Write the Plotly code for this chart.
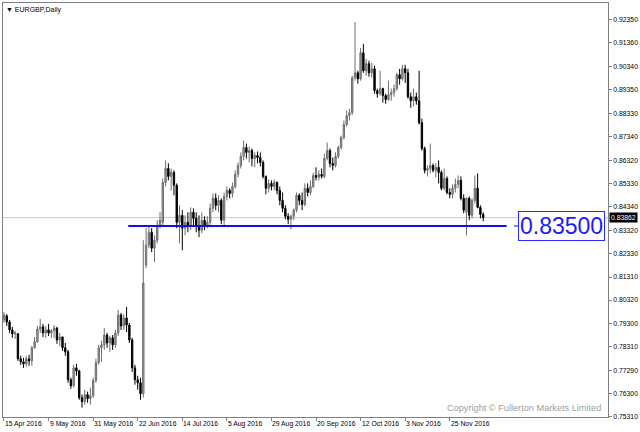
import plotly.graph_objects as go

# EURGBP daily bars, 15 Apr 2016 -> mid Dec 2016
opens = [0.7947, 0.7964, 0.7938, 0.7904, 0.7887, 0.7887, 0.7780, 0.7767, 0.7758, 0.7780,
         0.7771, 0.7827, 0.7853, 0.7908, 0.7917, 0.7891, 0.7904, 0.7891, 0.7900, 0.7912,
         0.7861, 0.7874, 0.7827, 0.7810, 0.7690, 0.7664, 0.7741, 0.7728, 0.7613, 0.7596,
         0.7626, 0.7609, 0.7621, 0.7686, 0.7763, 0.7827, 0.7840, 0.7882, 0.7848, 0.7870,
         0.7840, 0.7891, 0.7968, 0.7921, 0.7955, 0.7925, 0.7861, 0.7741, 0.7690, 0.7677,
         0.7630, 0.8182, 0.8268, 0.8323, 0.8255, 0.8289, 0.8353, 0.8366, 0.8537, 0.8597,
         0.8563, 0.8580, 0.8525, 0.8366, 0.8396, 0.8341, 0.8366, 0.8349, 0.8409, 0.8383,
         0.8353, 0.8332, 0.8375, 0.8353, 0.8366, 0.8426, 0.8469, 0.8439, 0.8460, 0.8375,
         0.8477, 0.8503, 0.8490, 0.8520, 0.8572, 0.8610, 0.8649, 0.8687, 0.8666, 0.8674,
         0.8640, 0.8653, 0.8644, 0.8623, 0.8563, 0.8512, 0.8533, 0.8520, 0.8537, 0.8503,
         0.8460, 0.8426, 0.8392, 0.8379, 0.8392, 0.8418, 0.8482, 0.8460, 0.8443, 0.8512,
         0.8494, 0.8520, 0.8567, 0.8559, 0.8572, 0.8563, 0.8640, 0.8674, 0.8619, 0.8610,
         0.8649, 0.8687, 0.8730, 0.8786, 0.8824, 0.8837, 0.8987, 0.9008, 0.8982, 0.9094,
         0.9017, 0.9047, 0.9008, 0.9025, 0.8931, 0.8918, 0.8940, 0.8910, 0.8893, 0.8914,
         0.8923, 0.8940, 0.9000, 0.8982, 0.9025, 0.9008, 0.8905, 0.8888, 0.8905, 0.8888,
         0.8794, 0.8683, 0.8589, 0.8597, 0.8610, 0.8589, 0.8602, 0.8580, 0.8512, 0.8554,
         0.8494, 0.8486, 0.8512, 0.8529, 0.8546, 0.8469, 0.8409, 0.8469, 0.8396, 0.8460,
         0.8512, 0.8430, 0.8400]

highs = [0.7981, 0.7972, 0.7947, 0.7917, 0.7900, 0.7891, 0.7793, 0.7784, 0.7793, 0.7797,
         0.7835, 0.7874, 0.7921, 0.7951, 0.7930, 0.7921, 0.7930, 0.7908, 0.7925, 0.7917,
         0.7891, 0.7874, 0.7848, 0.7818, 0.7699, 0.7754, 0.7758, 0.7733, 0.7626, 0.7647,
         0.7639, 0.7656, 0.7699, 0.7780, 0.7840, 0.7857, 0.7912, 0.7891, 0.7878, 0.7882,
         0.7904, 0.7990, 0.7977, 0.7972, 0.8002, 0.7934, 0.7870, 0.7754, 0.7707, 0.7699,
         0.8289, 0.8341, 0.8353, 0.8341, 0.8310, 0.8375, 0.8409, 0.8554, 0.8632, 0.8619,
         0.8597, 0.8589, 0.8533, 0.8439, 0.8418, 0.8396, 0.8409, 0.8430, 0.8426, 0.8409,
         0.8396, 0.8409, 0.8392, 0.8392, 0.8447, 0.8490, 0.8490, 0.8482, 0.8469, 0.8494,
         0.8520, 0.8512, 0.8537, 0.8589, 0.8623, 0.8666, 0.8717, 0.8704, 0.8691, 0.8683,
         0.8666, 0.8670, 0.8666, 0.8632, 0.8567, 0.8550, 0.8546, 0.8550, 0.8542, 0.8520,
         0.8494, 0.8439, 0.8405, 0.8400, 0.8426, 0.8494, 0.8490, 0.8494, 0.8533, 0.8533,
         0.8546, 0.8580, 0.8602, 0.8589, 0.8597, 0.8661, 0.8709, 0.8683, 0.8644, 0.8666,
         0.8696, 0.8738, 0.8803, 0.8846, 0.8854, 0.8995, 0.9226, 0.9017, 0.9115, 0.9132,
         0.9068, 0.9060, 0.9051, 0.9038, 0.8940, 0.9017, 0.8944, 0.8918, 0.8974, 0.8940,
         0.8957, 0.9008, 0.9025, 0.9042, 0.9042, 0.9025, 0.8923, 0.8940, 0.8923, 0.9017,
         0.8811, 0.8691, 0.8610, 0.8704, 0.8619, 0.8619, 0.8632, 0.8589, 0.8597, 0.8563,
         0.8512, 0.8529, 0.8554, 0.8567, 0.8563, 0.8486, 0.8473, 0.8477, 0.8469, 0.8567,
         0.8576, 0.8439, 0.8409]

lows = [0.7934, 0.7921, 0.7891, 0.7870, 0.7865, 0.7771, 0.7754, 0.7741, 0.7746, 0.7750,
        0.7750, 0.7823, 0.7848, 0.7891, 0.7874, 0.7870, 0.7878, 0.7870, 0.7870, 0.7844,
        0.7835, 0.7814, 0.7793, 0.7677, 0.7651, 0.7656, 0.7707, 0.7604, 0.7570, 0.7583,
        0.7591, 0.7583, 0.7613, 0.7677, 0.7754, 0.7767, 0.7818, 0.7827, 0.7810, 0.7818,
        0.7827, 0.7878, 0.7904, 0.7904, 0.7895, 0.7848, 0.7724, 0.7669, 0.7647, 0.7604,
        0.7613, 0.8169, 0.8255, 0.8238, 0.8195, 0.8276, 0.8341, 0.8353, 0.8520, 0.8546,
        0.8503, 0.8482, 0.8341, 0.8276, 0.8246, 0.8310, 0.8323, 0.8332, 0.8353, 0.8323,
        0.8302, 0.8319, 0.8332, 0.8341, 0.8353, 0.8409, 0.8418, 0.8409, 0.8358, 0.8345,
        0.8460, 0.8469, 0.8473, 0.8512, 0.8559, 0.8597, 0.8632, 0.8640, 0.8623, 0.8606,
        0.8602, 0.8619, 0.8606, 0.8554, 0.8486, 0.8494, 0.8503, 0.8503, 0.8486, 0.8439,
        0.8409, 0.8379, 0.8358, 0.8336, 0.8375, 0.8409, 0.8439, 0.8418, 0.8435, 0.8477,
        0.8482, 0.8512, 0.8546, 0.8546, 0.8554, 0.8554, 0.8632, 0.8602, 0.8589, 0.8602,
        0.8640, 0.8679, 0.8721, 0.8777, 0.8803, 0.8828, 0.8974, 0.8961, 0.8974, 0.9008,
        0.8995, 0.8991, 0.8987, 0.8918, 0.8901, 0.8910, 0.8880, 0.8875, 0.8888, 0.8888,
        0.8905, 0.8931, 0.8957, 0.8974, 0.8965, 0.8897, 0.8858, 0.8863, 0.8871, 0.8786,
        0.8674, 0.8576, 0.8563, 0.8576, 0.8580, 0.8559, 0.8533, 0.8503, 0.8503, 0.8486,
        0.8469, 0.8469, 0.8494, 0.8512, 0.8460, 0.8405, 0.8310, 0.8375, 0.8383, 0.8447,
        0.8426, 0.8383, 0.8370]

closes = [0.7968, 0.7938, 0.7904, 0.7887, 0.7891, 0.7780, 0.7767, 0.7758, 0.7780, 0.7771,
          0.7827, 0.7853, 0.7908, 0.7917, 0.7891, 0.7904, 0.7891, 0.7900, 0.7912, 0.7861,
          0.7874, 0.7827, 0.7810, 0.7690, 0.7664, 0.7741, 0.7728, 0.7613, 0.7596, 0.7626,
          0.7609, 0.7621, 0.7686, 0.7763, 0.7827, 0.7840, 0.7882, 0.7848, 0.7870, 0.7840,
          0.7891, 0.7968, 0.7921, 0.7955, 0.7925, 0.7861, 0.7741, 0.7690, 0.7677, 0.7630,
          0.8105, 0.8268, 0.8323, 0.8255, 0.8289, 0.8353, 0.8375, 0.8537, 0.8597, 0.8563,
          0.8580, 0.8525, 0.8366, 0.8396, 0.8341, 0.8366, 0.8349, 0.8409, 0.8383, 0.8353,
          0.8332, 0.8375, 0.8353, 0.8366, 0.8426, 0.8469, 0.8439, 0.8460, 0.8375, 0.8477,
          0.8503, 0.8490, 0.8520, 0.8572, 0.8610, 0.8649, 0.8687, 0.8666, 0.8674, 0.8640,
          0.8653, 0.8644, 0.8623, 0.8563, 0.8512, 0.8533, 0.8520, 0.8537, 0.8503, 0.8460,
          0.8426, 0.8392, 0.8379, 0.8392, 0.8418, 0.8482, 0.8460, 0.8443, 0.8512, 0.8494,
          0.8520, 0.8567, 0.8559, 0.8572, 0.8563, 0.8640, 0.8674, 0.8619, 0.8610, 0.8649,
          0.8687, 0.8730, 0.8786, 0.8824, 0.8837, 0.8987, 0.9008, 0.8982, 0.9094, 0.9017,
          0.9047, 0.9008, 0.9025, 0.8931, 0.8918, 0.8940, 0.8910, 0.8893, 0.8914, 0.8923,
          0.8940, 0.9000, 0.8982, 0.9025, 0.9008, 0.8905, 0.8888, 0.8905, 0.8888, 0.8794,
          0.8683, 0.8589, 0.8597, 0.8610, 0.8589, 0.8602, 0.8580, 0.8512, 0.8554, 0.8494,
          0.8486, 0.8512, 0.8529, 0.8546, 0.8469, 0.8418, 0.8469, 0.8396, 0.8460, 0.8512,
          0.8430, 0.8400, 0.83862]

date_labels = ["15 Apr 2016", "9 May 2016", "31 May 2016", "22 Jun 2016", "14 Jul 2016",
               "5 Aug 2016", "29 Aug 2016", "20 Sep 2016", "12 Oct 2016", "3 Nov 2016",
               "25 Nov 2016"]
date_ticks = [0, 16, 32, 48, 64, 80, 96, 112, 128, 144, 160]

price_ticks = [0.92350, 0.91360, 0.90340, 0.89350, 0.88330, 0.87340, 0.86320, 0.85330,
               0.84340, 0.83320, 0.82330, 0.81310, 0.80320, 0.79300, 0.78310, 0.77290,
               0.76300, 0.75310]

level = 0.83500
level_start, level_end = 44.6, 180.4
last_price = closes[-1]

FONT = "Liberation Sans, Arial, sans-serif"
x = list(range(len(closes)))

fig = go.Figure()
fig.add_trace(go.Candlestick(
    x=x, open=opens, high=highs, low=lows, close=closes,
    increasing=dict(line=dict(color="#6e6e6e", width=1), fillcolor="#a0a0a0"),
    decreasing=dict(line=dict(color="#000000", width=1), fillcolor="#000000"),
    whiskerwidth=0, showlegend=False, hoverinfo="skip",
))

shapes = [
    dict(type="line", xref="paper", x0=0, x1=1, yref="y", y0=last_price, y1=last_price,
         line=dict(color="#c8c8c8", width=1), layer="below"),
    dict(type="line", xref="x", x0=level_start, x1=level_end, yref="y", y0=level, y1=level,
         line=dict(color="#1010e8", width=2)),
    dict(type="line", xref="x", x0=183.0, x1=185.3, yref="y", y0=level, y1=level,
         line=dict(color="#1010e8", width=1)),
]

annotations = []
for t, lab in zip(date_ticks, date_labels):
    annotations.append(dict(x=t, y=0, xref="x", yref="paper", text=lab, showarrow=False,
                            xanchor="left", yanchor="top", yshift=-1, xshift=-1,
                            font=dict(family=FONT, size=6.8, color="#000000")))
annotations += [
    dict(x=0, y=1, xref="paper", yref="paper", text="▼ EURGBP,Daily", showarrow=False,
         xanchor="left", yanchor="top", xshift=1, yshift=-1,
         font=dict(family=FONT, size=7, color="#000000")),
    dict(x=200.2, y=level, xref="x", yref="y", text="0.83500", showarrow=False,
         xanchor="center", yanchor="middle", bgcolor="#ffffff",
         bordercolor="#2a2aff", borderwidth=1, borderpad=1,
         font=dict(family=FONT, size=23, color="#1a1aff")),
    dict(x=1, y=last_price, xref="paper", yref="y", text="%.5f" % last_price, showarrow=False,
         xanchor="left", yanchor="middle", xshift=1, bgcolor="#000000", borderpad=1,
         font=dict(family=FONT, size=6.8, color="#ffffff")),
    dict(x=0.992, y=0.022, xref="paper", yref="paper",
         text="Copyright © Fullerton Markets Limited", showarrow=False,
         xanchor="right", yanchor="middle",
         font=dict(family=FONT, size=9.2, color="#a0a0a0")),
]

fig.update_layout(
    width=640, height=432,
    margin=dict(l=2, r=30, t=2, b=15),
    paper_bgcolor="#ffffff", plot_bgcolor="#ffffff",
    font=dict(family=FONT, size=7, color="#000000"),
    shapes=shapes, annotations=annotations,
    showlegend=False,
    xaxis=dict(range=[-0.357, 216.8], tickvals=date_ticks, showticklabels=False,
               ticks="outside", ticklen=3, tickcolor="#808080",
               showgrid=False, zeroline=False, showline=True, linecolor="#808080",
               linewidth=1, mirror=True, rangeslider=dict(visible=False), fixedrange=True),
    yaxis=dict(range=[0.7530, 0.93077], side="right", tickvals=price_ticks,
               ticktext=["%.5f" % v for v in price_ticks],
               ticks="outside", ticklen=3, tickcolor="#808080",
               tickfont=dict(family=FONT, size=6.8, color="#000000"),
               showgrid=False, zeroline=False, showline=True, linecolor="#808080",
               linewidth=1, mirror=True, fixedrange=True),
)

fig.write_html("out.html", config={"displayModeBar": False},
               post_script="document.body.style.margin='0';document.body.style.overflow='hidden';")
